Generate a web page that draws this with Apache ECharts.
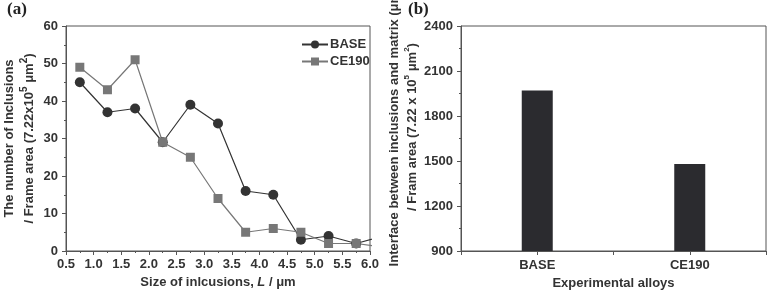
<!DOCTYPE html>
<html>
<head>
<meta charset="utf-8">
<script src="https://cdn.jsdelivr.net/npm/echarts@6/dist/echarts.min.js"></script>
<style>
html,body{margin:0;padding:0;background:#fff;}
#chart{width:778px;height:290px;}
</style>
</head>
<body>
<div id="chart"></div>
<script>
// panel (a) - inclusion size distribution
var sizes = [0.75, 1.25, 1.75, 2.25, 2.75, 3.25, 3.75, 4.25, 4.75, 5.25, 5.75, 6.25];
var baseCount = [45, 37, 38, 29, 39, 34, 16, 15, 3, 4, 2, 4];
var ce190Count = [49, 43, 51, 29, 25, 14, 5, 6, 5, 2, 2, 1];
// panel (b) - interface per frame area
var alloys = ['BASE', 'CE190'];
var alloyPos = [0.5, 1.5];
var interfaceVal = [1970, 1480];

function pairs(xs, ys){
	var out = [];
	for(var i=0;i<xs.length;i++){
		out.push([xs[i], ys[i]]);
	}
	return out;
}

var font = '"Liberation Sans", Arial, sans-serif';
var axisCol = '#555';
var txtCol = '#333';

var chart = echarts.init(document.getElementById('chart'));
var option = {
	animation:false,
	backgroundColor:'#fff',
	textStyle:{fontFamily:font},
	grid:[
		{left:66, right:408, top:26, bottom:39, show:true, borderColor:axisCol, borderWidth:1, outerBoundsMode:'none', containLabel:false},
		{left:461, right:12, top:26, bottom:39, show:true, borderColor:axisCol, borderWidth:1, outerBoundsMode:'none', containLabel:false}
	],
	legend:{
		left:296, top:33, orient:'vertical', itemWidth:26, itemHeight:10, itemGap:4,
		textStyle:{fontFamily:font, fontWeight:'bold', fontSize:13, color:txtCol, padding:[0,0,0,-3]},
		data:['BASE','CE190']
	},
	graphic:[
		{type:'text', left:7, top:1, style:{text:'(a)', font:'bold 17px "Liberation Serif", serif', fill:'#222'}},
		{type:'text', left:408, top:1, style:{text:'(b)', font:'bold 17px "Liberation Serif", serif', fill:'#222'}},
		{type:'text', x:403, y:127, rotation:Math.PI/2,
			style:{
				text:'{n|Interface between inclusions and matrix (μm)}\n{n|/ Fram area (7.22 x 10}{s|5}{n| μm}{s|2}{n|)}',
				align:'center', verticalAlign:'middle',
				rich:{
					n:{fontFamily:font, fontWeight:'bold', fontSize:13, fill:txtCol, lineHeight:18},
					s:{fontFamily:font, fontWeight:'bold', fontSize:8, fill:txtCol, verticalAlign:'top', lineHeight:18}
				}
			}}
	],
	xAxis:[{
		gridIndex:0, type:'value', min:0.5, max:6.0, interval:0.5,
		axisLine:{show:true, lineStyle:{color:axisCol}},
		axisTick:{show:true, inside:false, length:4, lineStyle:{color:axisCol}},
		minorTick:{show:true, splitNumber:2, length:2, lineStyle:{color:axisCol}},
		splitLine:{show:false},
		axisLabel:{color:txtCol, fontWeight:'bold', fontSize:13, margin:7,
			formatter:function(v){ return v.toFixed(1); }},
		name:'{n|Size of inlcusions, }{i|L}{n| / μm}', nameLocation:'middle', nameGap:25,
		nameTextStyle:{rich:{
			n:{fontFamily:font, fontWeight:'bold', fontSize:13, color:txtCol},
			i:{fontFamily:font, fontWeight:'bold', fontStyle:'italic', fontSize:13, color:txtCol}
		}}
	},{
		gridIndex:1, type:'value', min:0, max:2, interval:0.5,
		axisLine:{show:true, lineStyle:{color:axisCol}},
		axisTick:{show:true, inside:false, length:4, lineStyle:{color:axisCol}},
		splitLine:{show:false},
		axisLabel:{color:txtCol, fontWeight:'bold', fontSize:13, margin:8,
			formatter:function(v){
				var k = alloyPos.indexOf(v);
				return k >= 0 ? alloys[k] : '';
			}},
		name:'Experimental alloys', nameLocation:'middle', nameGap:26,
		nameTextStyle:{fontFamily:font, fontWeight:'bold', fontSize:13, color:txtCol}
	}],
	yAxis:[{
		gridIndex:0, type:'value', min:0, max:60, interval:10,
		axisLine:{show:true, lineStyle:{color:axisCol}},
		axisTick:{show:true, inside:false, length:4, lineStyle:{color:axisCol}},
		minorTick:{show:true, splitNumber:2, length:2, lineStyle:{color:axisCol}},
		splitLine:{show:false},
		axisLabel:{color:txtCol, fontWeight:'bold', fontSize:13, margin:8},
		name:'{n|The number of Inclusions}\n{n|/ Frame area (7.22x10}{s|5}{n| μm}{s|2}{n|)}',
		nameLocation:'middle', nameRotate:90, nameGap:27,
		nameTextStyle:{lineHeight:20, rich:{
			n:{fontFamily:font, fontWeight:'bold', fontSize:13, color:txtCol, lineHeight:20},
			s:{fontFamily:font, fontWeight:'bold', fontSize:10, color:txtCol, verticalAlign:'top', lineHeight:20, padding:[0,0,6,0]}
		}}
	},{
		gridIndex:1, type:'value', min:900, max:2400, interval:300,
		axisLine:{show:true, lineStyle:{color:axisCol}},
		axisTick:{show:true, inside:false, length:4, lineStyle:{color:axisCol}},
		minorTick:{show:true, splitNumber:2, length:2, lineStyle:{color:axisCol}},
		splitLine:{show:false},
		axisLabel:{color:txtCol, fontWeight:'bold', fontSize:13, margin:8,
			formatter:function(v){ return String(v); }}
	}],
	series:[{
		name:'BASE', type:'line', xAxisIndex:0, yAxisIndex:0,
		data:pairs(sizes, baseCount), clip:true,
		symbol:'circle', symbolSize:10,
		lineStyle:{color:'#333', width:1.2},
		itemStyle:{color:'#333'}
	},{
		name:'CE190', type:'line', xAxisIndex:0, yAxisIndex:0,
		data:pairs(sizes, ce190Count), clip:true,
		symbol:'rect', symbolSize:9,
		lineStyle:{color:'#777', width:1.2},
		itemStyle:{color:'#777'}
	},{
		name:'interface', type:'bar', xAxisIndex:1, yAxisIndex:1,
		data:pairs(alloyPos, interfaceVal), barWidth:31,
		itemStyle:{color:'#2b2b2f'}
	}]
};
chart.setOption(option);
</script>
</body>
</html>
